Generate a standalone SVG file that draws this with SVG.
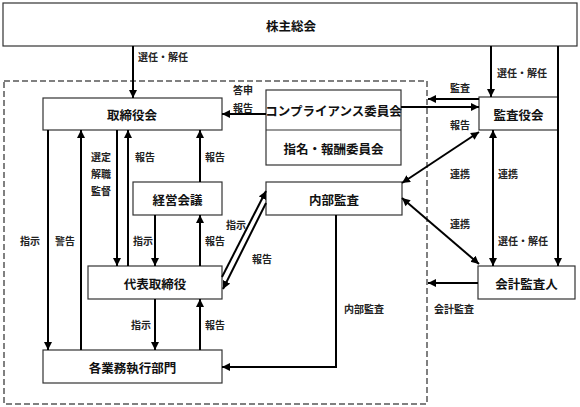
<svg xmlns="http://www.w3.org/2000/svg" width="580" height="407" viewBox="0 0 580 407">
<style>
.box{fill:#fff;stroke:#333;stroke-width:1.2}
.t{font-family:"Noto Sans CJK JP","Noto Sans",sans-serif;font-size:12.5px;font-weight:bold;fill:#111;text-anchor:middle;dominant-baseline:central}
.l{font-family:"Noto Sans CJK JP","Noto Sans",sans-serif;font-size:10px;font-weight:bold;fill:#222;dominant-baseline:central}
.c{fill:none;stroke:#000;stroke-width:2}
.e{marker-end:url(#ah)}
.b{marker-start:url(#as);marker-end:url(#ah)}
</style>
<defs>
<marker id="ah" markerUnits="userSpaceOnUse" markerWidth="9" markerHeight="9" refX="8" refY="4" orient="auto"><path d="M0,0 L8,4 L0,8 z" fill="#000"/></marker>
<marker id="as" markerUnits="userSpaceOnUse" markerWidth="9" markerHeight="9" refX="0" refY="4" orient="auto"><path d="M8,0 L0,4 L8,8 z" fill="#000"/></marker>
</defs>
<rect x="4" y="81" width="423" height="323" fill="none" stroke="#808080" stroke-width="2" stroke-dasharray="6,3"/>
<g id="kabunushi"><rect class="box" x="3" y="3" width="574" height="43"/><text class="t" x="291" y="25">株主総会</text></g>
<g id="torishimariyakukai"><rect class="box" x="43" y="98" width="179" height="32"/><text class="t" x="132" y="114">取締役会</text></g>
<g id="compliance"><rect class="box" x="266" y="90" width="135" height="75"/><line x1="266" y1="130" x2="401" y2="130" stroke="#333" stroke-width="1.2"/><text class="t" x="333.5" y="110">コンプライアンス委員会</text><text class="t" x="333.5" y="148">指名・報酬委員会</text></g>
<g id="kansayakukai"><rect class="box" x="479" y="97" width="79" height="33"/><text class="t" x="518.5" y="114">監査役会</text></g>
<g id="keieikaigi"><rect class="box" x="133" y="182" width="89" height="33"/><text class="t" x="177.5" y="199">経営会議</text></g>
<g id="naibukansa"><rect class="box" x="266" y="182" width="136" height="33"/><text class="t" x="334" y="199">内部監査</text></g>
<g id="daihyo"><rect class="box" x="88" y="266" width="134" height="33"/><text class="t" x="155" y="283">代表取締役</text></g>
<g id="kaikeikansanin"><rect class="box" x="478" y="266" width="97" height="33"/><text class="t" x="526.5" y="283">会計監査人</text></g>
<g id="gyomu"><rect class="box" x="43" y="350" width="179" height="33"/><text class="t" x="132.5" y="367">各業務執行部門</text></g>
<g id="connectors">
<path class="c e" d="M133 46 V98"/>
<path class="c e" d="M491 46 V97"/>
<path class="c e" d="M558 46 V266"/>
<path class="c e" d="M266 114 H222"/>
<path class="c e" d="M479 99 H428"/>
<path class="c e" d="M401 107 H479"/>
<path class="c e" d="M48 130 V350"/>
<path class="c e" d="M81 350 V130"/>
<path class="c e" d="M117 130 V266"/>
<path class="c e" d="M128 266 V130"/>
<path class="c e" d="M200 182 V130"/>
<path class="c e" d="M155 215 V266"/>
<path class="c e" d="M200 266 V215"/>
<path class="c e" d="M155 299 V350"/>
<path class="c e" d="M200 350 V299"/>
<path class="c e" d="M222 277 L266 191"/>
<path class="c e" d="M266 203 L223 289"/>
<path class="c b" d="M479 132 L402 183"/>
<path class="c b" d="M402 198 L479 264"/>
<path class="c b" d="M493 130 V266"/>
<path class="c e" d="M478 283 H428"/>
<path class="c e" d="M336 215 V367 H222"/>
</g>
<g id="labels">
<text class="l" x="138" y="56">選任・解任</text>
<text class="l" x="497" y="72">選任・解任</text>
<text class="l" x="233" y="89">答申</text>
<text class="l" x="233" y="107">報告</text>
<text class="l" x="450" y="87">監査</text>
<text class="l" x="450" y="124">報告</text>
<text class="l" x="91" y="156">選定</text>
<text class="l" x="91" y="173">解職</text>
<text class="l" x="91" y="190">監督</text>
<text class="l" x="135" y="156">報告</text>
<text class="l" x="205" y="156">報告</text>
<text class="l" x="20" y="240">指示</text>
<text class="l" x="55" y="240">警告</text>
<text class="l" x="133" y="240">指示</text>
<text class="l" x="205" y="240">報告</text>
<text class="l" x="226" y="224">指示</text>
<text class="l" x="252" y="258">報告</text>
<text class="l" x="450" y="173">連携</text>
<text class="l" x="498" y="173">連携</text>
<text class="l" x="450" y="223">連携</text>
<text class="l" x="498" y="240">選任・解任</text>
<text class="l" x="131" y="324">指示</text>
<text class="l" x="205" y="324">報告</text>
<text class="l" x="344" y="308">内部監査</text>
<text class="l" x="434" y="308">会計監査</text>
</g>
</svg>
